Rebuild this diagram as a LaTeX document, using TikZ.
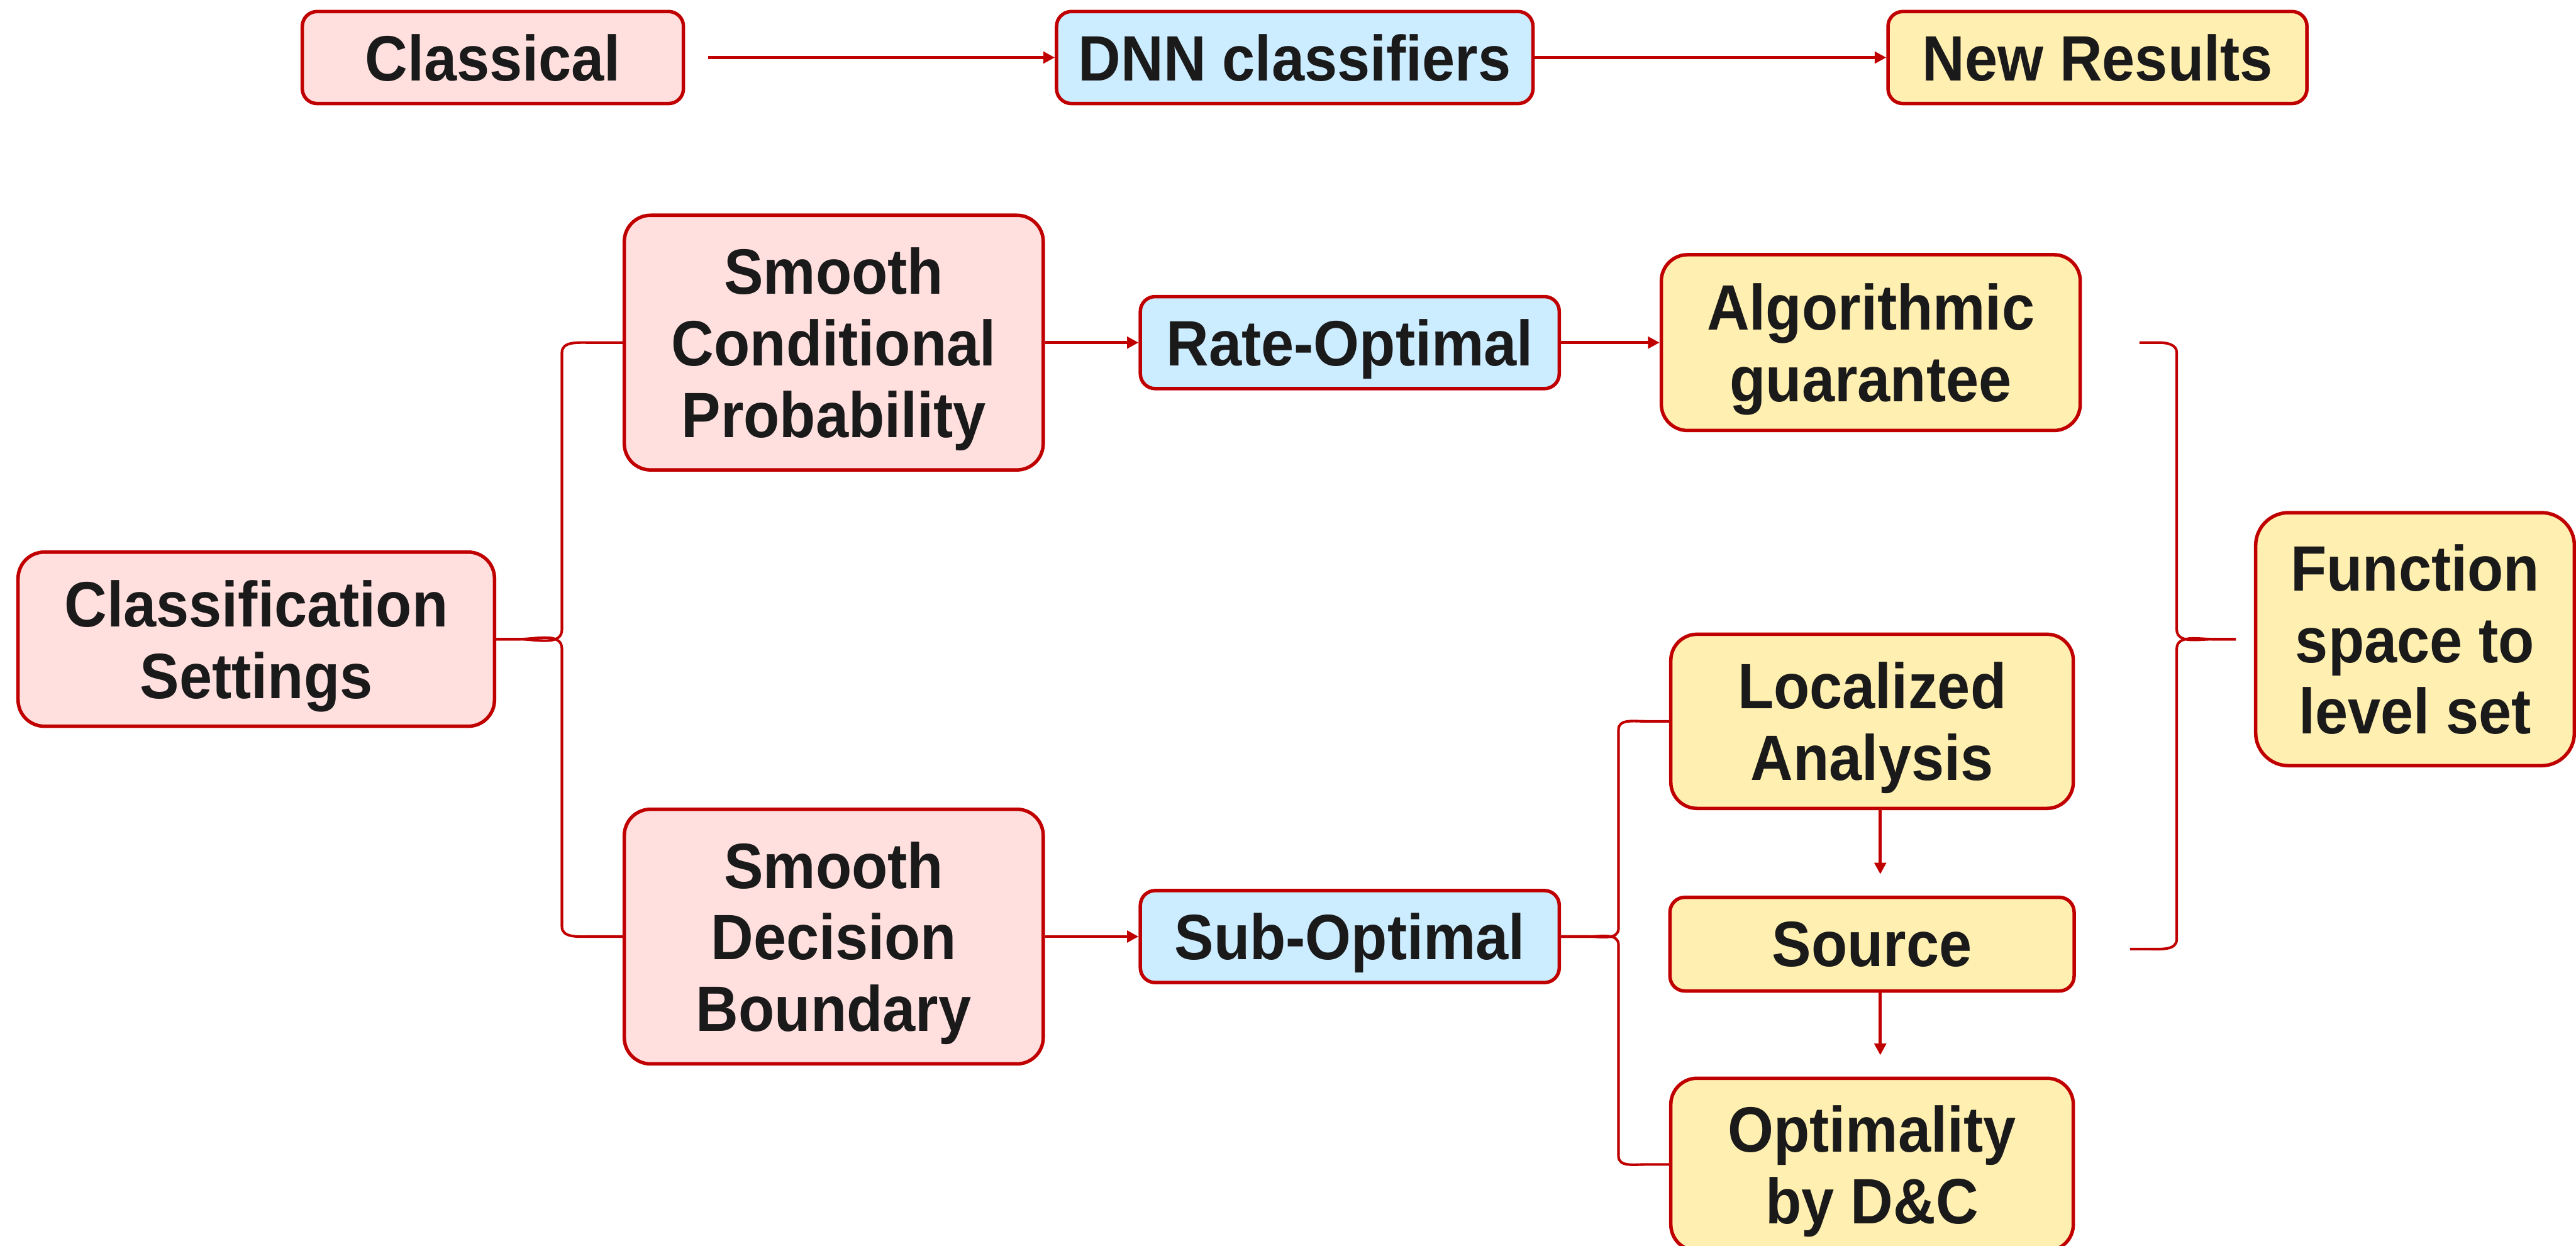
\documentclass[tikz,border=0pt]{standalone}
\usepackage{fontspec}
\setmainfont{Liberation Sans}[FakeStretch=0.92]
\usetikzlibrary{arrows.meta, positioning, calc}
\definecolor{boxred}{HTML}{C00000}
\definecolor{pinkfill}{HTML}{FFE0DF}
\definecolor{bluefill}{HTML}{CCECFF}
\definecolor{yellowfill}{HTML}{FFEFB0}
\definecolor{inkgray}{HTML}{1A1A1A}

\begin{document}
\begin{tikzpicture}[
    base/.style={
        rectangle, draw=boxred, line width=0.6pt, text=inkgray,
        font=\fontsize{11.1}{12.4}\selectfont\bfseries, align=center,
        inner sep=0pt, text depth=0pt
    },
    pinkbox/.style={base, fill=pinkfill},
    bluebox/.style={base, fill=bluefill},
    yellowbox/.style={base, fill=yellowfill},
    lowbox/.style={minimum height=0.56cm, rounded corners=0.09cm},
    highbox/.style={minimum height=1.06cm, rounded corners=0.16cm},
    arr/.style={-{Triangle[length=2pt, width=2pt]}, line width=0.5pt, boxred},
    brace/.style={line width=0.45pt, boxred},
]
\useasboundingbox (0,0) rectangle (15.68,-7.58);

% Top row
\node[pinkbox, lowbox, minimum width=2.32cm] (classical) at (3.00,-0.35) {Classical};
\node[bluebox, lowbox, minimum width=2.90cm, right=2.25cm of classical] (dnn) {DNN classifiers};
\node[yellowbox, lowbox, minimum width=2.55cm, right=2.14cm of dnn] (newres) {New Results};

% Settings and their two branches
\node[pinkbox, highbox, minimum width=2.90cm] (setting) at (1.56,-3.89) {Classification\\Settings};
\node[pinkbox, highbox, minimum width=2.55cm, minimum height=1.55cm] (pcond) at (5.075,-2.085) {Smooth\\Conditional\\Probability};
\node[pinkbox, highbox, minimum width=2.55cm, minimum height=1.55cm] (pdec) at (5.075,-5.70) {Smooth\\Decision\\Boundary};
\node[bluebox, lowbox, minimum width=2.55cm, right=0.57cm of pcond] (rate) {Rate-Optimal};
\node[bluebox, lowbox, minimum width=2.55cm, right=0.57cm of pdec] (sub) {Sub-Optimal};

% Results column
\node[yellowbox, highbox, minimum width=2.55cm, minimum height=1.07cm, right=0.60cm of rate] (algo) {Algorithmic\\guarantee};
\node[yellowbox, highbox, minimum width=2.45cm] (local) at (11.395,-4.39) {Localized\\Analysis};
\node[yellowbox, lowbox, minimum width=2.46cm, minimum height=0.57cm, below=0.52cm of local] (source) {Source};
\node[yellowbox, highbox, minimum width=2.45cm, minimum height=1.05cm, below=0.51cm of source] (optim) {Optimality\\by D\&C};
\node[yellowbox, highbox, minimum width=1.94cm, minimum height=1.54cm, rounded corners=0.2cm] (func) at (14.70,-3.89) {Function\\space to\\level set};

% Arrows
\draw[arr, shorten <=0.14cm] (classical) -- (dnn);
\draw[arr] (dnn) -- (newres);
\draw[arr] (pcond) -- (rate);
\draw[arr] (rate) -- (algo);
\draw[arr] (pdec) -- (sub);
\draw[arr, shorten >=0.13cm] ([xshift=0.05cm]local.south) -- ([xshift=0.05cm]source.north);
\draw[arr, shorten >=0.13cm] ([xshift=0.05cm]source.south) -- ([xshift=0.05cm]optim.north);

% Brace: Classification Settings -> both smooth settings
\coordinate (lspine) at ($(setting.east)+(0.40,0)$);
\draw[brace] (setting.east) -- ++(0.14,0) to[out=0,in=-90] ($(lspine)+(0,0.06)$)
    -- ($(lspine |- pcond.west)+(0,-0.06)$) to[out=90,in=180] ($(lspine |- pcond.west)+(0.16,0)$) -- (pcond.west);
\draw[brace] (setting.east) -- ++(0.14,0) to[out=0,in=90] ($(lspine)+(0,-0.06)$)
    -- ($(lspine |- pdec.west)+(0,0.06)$) to[out=-90,in=180] ($(lspine |- pdec.west)+(0.16,0)$) -- (pdec.west);

% Brace: Sub-Optimal -> Localized Analysis / Optimality
\coordinate (sspine) at ($(sub.east)+(0.35,0)$);
\draw[brace] (sub.east) -- ++(0.17,0) to[out=0,in=-90] ($(sspine)+(0,0.05)$)
    -- ($(sspine |- local.west)+(0,-0.05)$) to[out=90,in=180] ($(sspine |- local.west)+(0.16,0)$) -- (local.west);
\draw[brace] (sub.east) -- ++(0.17,0) to[out=0,in=90] ($(sspine)+(0,-0.05)$)
    -- ($(sspine |- optim.west)+(0,0.05)$) to[out=-90,in=180] ($(sspine |- optim.west)+(0.16,0)$) -- (optim.west);

% Brace: guarantee and source -> Function space to level set
\coordinate (rtop) at ($(algo.east)+(0.35,0)$);
\coordinate (rbot) at ($(source.east)+(0.33,-0.03)$);
\coordinate (rspine) at ($(func.west)+(-0.47,0)$);
\draw[brace, shorten >=0.11cm] (rtop) -- ++(0.12,0) to[out=0,in=90] ($(rspine |- rtop)+(0,-0.06)$)
    -- ($(rspine)+(0,0.06)$) to[out=-90,in=180] ($(rspine)+(0.22,0)$) -- (func.west);
\draw[brace, shorten >=0.11cm] (rbot) -- ++(0.12,0) to[out=0,in=-90] ($(rspine |- rbot)+(0,0.06)$)
    -- ($(rspine)+(0,-0.06)$) to[out=90,in=180] ($(rspine)+(0.22,0)$) -- (func.west);

\end{tikzpicture}
\end{document}
